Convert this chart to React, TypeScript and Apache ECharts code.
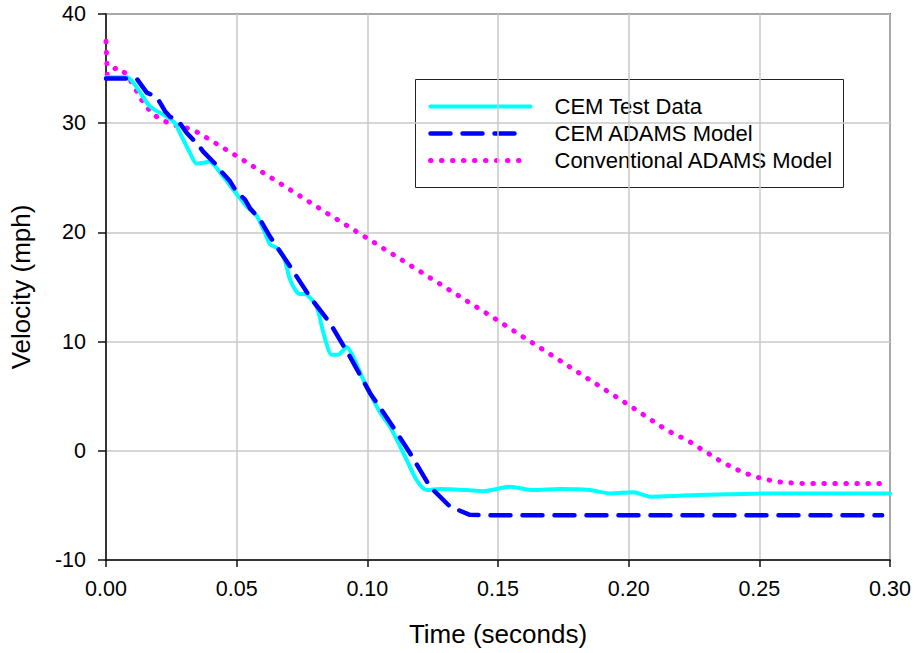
import React, { useEffect, useRef } from "react";
import * as echarts from "echarts";

const X_TICKS = [0, 0.05, 0.1, 0.15, 0.2, 0.25, 0.3];
const Y_TICKS = [-10, 0, 10, 20, 30, 40];

const SERIES_NAMES = ["CEM Test Data", "CEM ADAMS Model", "Conventional ADAMS Model"];

const cemTestTime = [
  0, 0.008, 0.012, 0.0162, 0.0188, 0.0232, 0.0264, 0.0283, 0.0321, 0.0347, 0.0379, 0.0395,
  0.0449, 0.0487, 0.0538, 0.0577, 0.0602, 0.0628, 0.0653, 0.068, 0.0704, 0.0736, 0.0768,
  0.0806, 0.0832, 0.0864, 0.0889, 0.0921, 0.0946, 0.0985, 0.1049, 0.1087, 0.1138, 0.1189,
  0.1227, 0.1278, 0.138, 0.1444, 0.1546, 0.1635, 0.1737, 0.1852, 0.1929, 0.2018, 0.2082,
  0.2209, 0.2337, 0.2528, 0.3,
];
const cemTestVel = [
  34.2, 34.2, 33.2, 31.7, 31.2, 30.6, 30.0, 29.1, 27.3, 26.3, 26.4, 26.5,
  25.1, 23.9, 22.4, 21.5, 20.3, 18.9, 18.6, 17.8, 15.7, 14.4, 14.3,
  13.2, 10.8, 8.8, 8.8, 9.5, 8.6, 6.5, 3.5, 2.2, -0.2, -2.7,
  -3.6, -3.5, -3.6, -3.7, -3.3, -3.6, -3.5, -3.6, -3.9, -3.8, -4.2,
  -4.1, -4.0, -3.9, -3.9,
];

const cemAdamsTime = [
  0, 0.0117, 0.0156, 0.0194, 0.0226, 0.0245, 0.0277, 0.0309, 0.0353, 0.0372, 0.0417, 0.0436,
  0.0474, 0.05, 0.0532, 0.0551, 0.0589, 0.0628, 0.0704, 0.078, 0.0857, 0.0934, 0.101,
  0.1087, 0.1163, 0.124, 0.1316, 0.139, 0.145, 0.297,
];
const cemAdamsVel = [
  34.1, 34.1, 32.8, 32.4, 31.1, 30.6, 30.2, 29.1, 28.0, 27.4, 26.3, 25.7,
  24.7, 23.7, 23.0, 22.2, 21.2, 19.6, 16.9, 14.1, 11.7, 8.6, 5.3,
  2.6, -0.2, -3.3, -5.1, -5.85, -5.9, -5.9,
];

const convTime = [
  0, 0.0005, 0.004, 0.0073, 0.0092, 0.0105, 0.0124, 0.0137, 0.0156, 0.0175, 0.02, 0.0232,
  0.0264, 0.0302, 0.0334, 0.05, 0.0672, 0.0883, 0.0991, 0.1482, 0.2, 0.2145, 0.2222,
  0.2299, 0.2362, 0.2439, 0.2516, 0.2592, 0.2675, 0.2975,
];
const convVel = [
  37.5, 34.4, 35.1, 34.6, 34.0, 33.4, 32.7, 32.1, 31.5, 30.9, 30.5, 30.1,
  29.8, 29.6, 29.4, 27.0, 24.4, 21.2, 19.6, 12.2, 4.2, 1.9, 1.0,
  -0.15, -1.1, -2.0, -2.6, -2.9, -3.0, -3.0,
];

const FONT = "'Liberation Sans', Arial, Helvetica, sans-serif";

function zip(t: number[], v: number[]) {
  return t.map((x, i) => [x, v[i]]);
}

export default function App() {
  const ref = useRef<HTMLDivElement>(null);
  useEffect(() => {
    if (!ref.current) return;
    const chart = echarts.init(ref.current, null, { renderer: "svg" });
    const legendX = 415;
    const legendY = 79;
    const legendFont = `22px ${FONT}`;
    chart.setOption({
      animation: false,
      backgroundColor: "#ffffff",
      grid: {
        left: 106,
        right: 25,
        top: 14,
        bottom: 93,
        show: true,
        borderColor: "#111",
        borderWidth: 1.5,
        backgroundColor: "transparent",
      },
      xAxis: {
        type: "value",
        min: X_TICKS[0],
        max: X_TICKS[X_TICKS.length - 1],
        interval: 0.05,
        name: "Time (seconds)",
        nameLocation: "middle",
        nameGap: 61,
        nameTextStyle: { fontFamily: FONT, fontSize: 26, color: "#000" },
        axisLine: { show: true, onZero: false, lineStyle: { color: "#111", width: 1.5 } },
        axisTick: { show: true, length: 7, lineStyle: { color: "#111", width: 1.5 } },
        axisLabel: {
          fontFamily: FONT,
          fontSize: 21.5,
          color: "#000",
          margin: 18,
          formatter: (v: number) => v.toFixed(2),
        },
        splitLine: { show: true, lineStyle: { color: "#c8c8c8", width: 1.5 } },
      },
      yAxis: {
        type: "value",
        min: Y_TICKS[0],
        max: Y_TICKS[Y_TICKS.length - 1],
        interval: 10,
        name: "Velocity (mph)",
        nameLocation: "middle",
        nameRotate: 90,
        nameGap: 72,
        nameTextStyle: { fontFamily: FONT, fontSize: 26, color: "#000" },
        axisLine: { show: true, onZero: false, lineStyle: { color: "#111", width: 1.5 } },
        axisTick: { show: true, length: 8, lineStyle: { color: "#111", width: 1.5 } },
        axisLabel: { fontFamily: FONT, fontSize: 21.5, color: "#000", margin: 20 },
        splitLine: { show: true, lineStyle: { color: "#c8c8c8", width: 1.5 } },
      },
      series: [
        {
          name: SERIES_NAMES[2],
          type: "line",
          data: zip(convTime, convVel),
          showSymbol: false,
          symbol: "none",
          lineStyle: { color: "#ff00ff", width: 5, type: [0.5, 10.5], cap: "round" },
          z: 2,
        },
        {
          name: SERIES_NAMES[0],
          type: "line",
          data: zip(cemTestTime, cemTestVel),
          showSymbol: false,
          symbol: "none",
          smooth: 0.25,
          lineStyle: { color: "#00ffff", width: 4, cap: "round", join: "round" },
          z: 3,
        },
        {
          name: SERIES_NAMES[1],
          type: "line",
          data: zip(cemAdamsTime, cemAdamsVel),
          showSymbol: false,
          symbol: "none",
          lineStyle: { color: "#0000ff", width: 4.5, type: [20, 12], cap: "round" },
          z: 4,
        },
      ],
      graphic: [
        {
          type: "group",
          left: legendX,
          top: legendY,
          children: [
            {
              type: "rect",
              shape: { x: 0, y: 0, width: 428, height: 108 },
              style: { fill: "#fff", stroke: "#222", lineWidth: 1 },
            },
            {
              type: "line",
              shape: { x1: 15, y1: 27, x2: 115, y2: 27 },
              style: { stroke: "#00ffff", lineWidth: 4, lineCap: "round" },
            },
            {
              type: "line",
              shape: { x1: 15, y1: 54, x2: 105, y2: 54 },
              style: { stroke: "#0000ff", lineWidth: 4.5, lineDash: [20, 12], lineCap: "round" },
            },
            {
              type: "line",
              shape: { x1: 15, y1: 81, x2: 105, y2: 81 },
              style: { stroke: "#ff00ff", lineWidth: 5, lineDash: [0.5, 10.5], lineCap: "round" },
            },
            {
              type: "text",
              x: 139,
              y: 27,
              style: { text: SERIES_NAMES[0], font: legendFont, fill: "#000", verticalAlign: "middle" },
            },
            {
              type: "text",
              x: 139,
              y: 54,
              style: { text: SERIES_NAMES[1], font: legendFont, fill: "#000", verticalAlign: "middle" },
            },
            {
              type: "text",
              x: 139,
              y: 81,
              style: { text: SERIES_NAMES[2], font: legendFont, fill: "#000", verticalAlign: "middle" },
            },
          ],
        },
      ],
    });
    return () => chart.dispose();
  }, []);
  return <div ref={ref} style={{ width: 915, height: 653, position: "absolute", left: 0, top: 0 }} />;
}
